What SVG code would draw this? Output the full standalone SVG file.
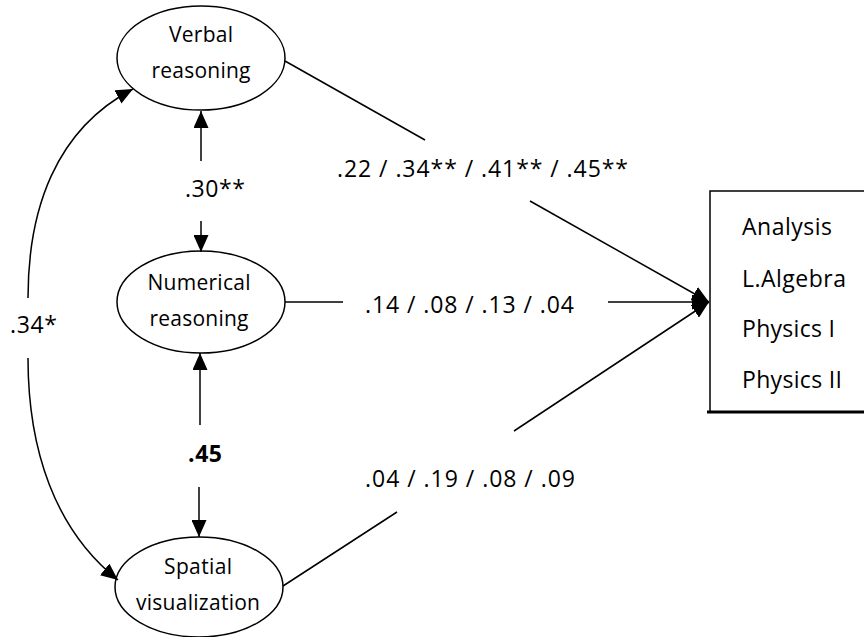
<svg xmlns="http://www.w3.org/2000/svg" width="864" height="637" viewBox="0 0 864 637">
<defs>
<style>
.node{fill:#fff;stroke:#000;stroke-width:1.5}
.t{font-family:"Open Sans","Liberation Sans",Arial,sans-serif;font-size:21px;fill:#000;text-anchor:middle}
.lbl{font-family:"Open Sans","Liberation Sans",Arial,sans-serif;font-size:23px;fill:#000}
.ln{fill:none;stroke:#000;stroke-width:1.5}
</style>
<marker id="arr" markerUnits="userSpaceOnUse" markerWidth="17" markerHeight="15" refX="17" refY="7.5" orient="auto">
<path d="M0,0 L17,7.5 L0,15 z" fill="#000"/>
</marker>
</defs>
<rect width="864" height="637" fill="#fff"/>
<g id="verbal">
<ellipse class="node" cx="201" cy="58" rx="84" ry="52"/>
<text class="t" x="201" y="42" textLength="64">Verbal</text>
<text class="t" x="201" y="78" textLength="99">reasoning</text>
</g>
<g id="numerical">
<ellipse class="node" cx="201" cy="302" rx="84" ry="51"/>
<text class="t" x="199" y="290" textLength="103">Numerical</text>
<text class="t" x="199" y="326" textLength="99">reasoning</text>
</g>
<g id="spatial">
<ellipse class="node" cx="199" cy="587" rx="84" ry="50"/>
<text class="t" x="198" y="574" textLength="68">Spatial</text>
<text class="t" x="198" y="610" textLength="124">visualization</text>
</g>
<g id="outcomes">
<path d="M864,191 L710,191 L710,412" class="ln"/>
<line x1="707" y1="412" x2="864" y2="412" stroke="#000" stroke-width="3"/>
<text class="lbl" x="742" y="235" textLength="90">Analysis</text>
<text class="lbl" x="742" y="287" textLength="104">L.Algebra</text>
<text class="lbl" x="742" y="337" textLength="93">Physics I</text>
<text class="lbl" x="742" y="388" textLength="100">Physics II</text>
</g>
<g id="connectors">
<path class="ln" d="M285,61 L425,140"/>
<path class="ln" d="M530,201 L709,302" marker-end="url(#arr)"/>
<path class="ln" d="M285,302 L343,302"/>
<path class="ln" d="M608,302 L709,302" marker-end="url(#arr)"/>
<path class="ln" d="M283,586 L397,512"/>
<path class="ln" d="M514,431 L709,302" marker-end="url(#arr)"/>
<path class="ln" d="M201,161 L201,111" marker-end="url(#arr)"/>
<path class="ln" d="M201,221 L201,252" marker-end="url(#arr)"/>
<path class="ln" d="M200,425 L200,353" marker-end="url(#arr)"/>
<path class="ln" d="M199,487 L199,537" marker-end="url(#arr)"/>
<path class="ln" d="M28,298 C28,210 55,130 133,89" marker-end="url(#arr)"/>
<path class="ln" d="M28,358 C28,450 55,530 118,580" marker-end="url(#arr)"/>
</g>
<g id="labels">
<text class="lbl" x="337" y="177" textLength="291">.22 / .34** / .41** / .45**</text>
<text class="lbl" x="365" y="313" textLength="209">.14 / .08 / .13 / .04</text>
<text class="lbl" x="365" y="487" textLength="210">.04 / .19 / .08 / .09</text>
<text class="lbl" x="185" y="197" textLength="60">.30**</text>
<text class="lbl" x="188" y="462" textLength="34" font-weight="bold">.45</text>
<text class="lbl" x="10" y="333" textLength="47">.34*</text>
</g>
</svg>
